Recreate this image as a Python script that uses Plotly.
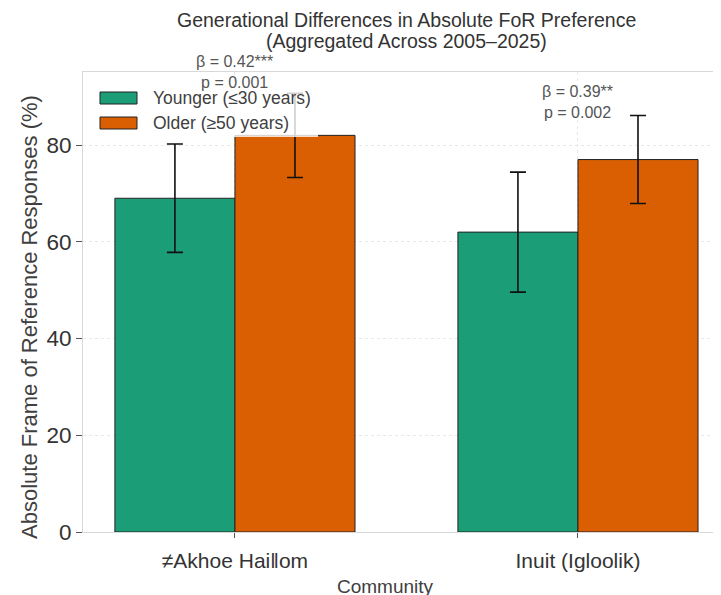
import plotly.graph_objects as go

communities = ["≠Akhoe Haiǁom", "Inuit (Igloolik)"]
younger = [69.0, 62.0]
younger_err = [11.2, 12.4]
older = [82.0, 77.0]
older_err = [8.7, 9.1]
stats_beta = ["β = 0.42***", "β = 0.39**"]
stats_p = ["p = 0.001", "p = 0.002"]
stats_y = [95.0, 88.8]
series_names = ["Younger (≤30 years)", "Older (≥50 years)"]
series_colors = ["#1b9e77", "#d95f02"]

FONT = "Liberation Sans, Arial, sans-serif"
TXT = "#404040"

# the page body has an 8px margin; design in window pixels and shift
O = 8
W, H = 721 - O, 595 - O
L, R, T, B = 83 - O, 721 - O, 72 - O, 532 - O


def px(x):
    return (x - O - L) / (R - L)


def py(y):
    return (B - (y - O)) / (B - T)


fig = go.Figure()
for name, vals, errs, col in zip(series_names, [younger, older], [younger_err, older_err], series_colors):
    fig.add_trace(go.Bar(
        x=communities, y=vals, name=name, showlegend=False,
        marker=dict(color=col, line=dict(color="#222222", width=1)),
        error_y=dict(type="data", array=errs, color="#111111", thickness=1.6, width=8),
    ))

for c, b, p, y in zip(communities, stats_beta, stats_p, stats_y):
    fig.add_annotation(x=c, y=y, xref="x", yref="y", text=f"{b}<br>{p}",
                       showarrow=False, font=dict(family=FONT, size=16, color="#555555"),
                       align="center", yanchor="middle")

# title lines
fig.add_annotation(x=px(406), y=py(20), xref="paper", yref="paper",
                   text="Generational Differences in Absolute FoR Preference",
                   showarrow=False, font=dict(family=FONT, size=19.5, color="#333333"),
                   xanchor="center", yanchor="middle")
fig.add_annotation(x=px(406), y=py(41), xref="paper", yref="paper",
                   text="(Aggregated Across 2005–2025)",
                   showarrow=False, font=dict(family=FONT, size=19.5, color="#333333"),
                   xanchor="center", yanchor="middle")
# axis titles
fig.add_annotation(x=px(29), y=py(317), xref="paper", yref="paper",
                   text="Absolute Frame of Reference Responses (%)", textangle=-90,
                   showarrow=False, font=dict(family=FONT, size=22, color=TXT),
                   xanchor="center", yanchor="middle")
fig.add_annotation(x=px(385), y=py(586), xref="paper", yref="paper",
                   text="Community",
                   showarrow=False, font=dict(family=FONT, size=19, color=TXT),
                   xanchor="center", yanchor="middle")

# legend (manual, to match patch shapes)
shapes = [dict(type="rect", xref="paper", yref="paper", x0=px(91), x1=px(318), y0=py(84), y1=py(137),
               fillcolor="rgba(255,255,255,0.8)", line=dict(width=0), layer="above")]
for i, (name, col) in enumerate(zip(series_names, series_colors)):
    yc = 98 + 25 * i
    shapes.append(dict(type="rect", xref="paper", yref="paper", x0=px(100), x1=px(137),
                       y0=py(yc - 6), y1=py(yc + 6), fillcolor=col,
                       line=dict(color="#222222", width=1), layer="above"))
    fig.add_annotation(x=px(151), y=py(yc), xref="paper", yref="paper", text=name,
                       showarrow=False, font=dict(family=FONT, size=17.5, color=TXT),
                       xanchor="left", yanchor="middle")

fig.update_layout(
    width=W, height=H,
    margin=dict(l=L, r=W - R, t=T, b=H - B, autoexpand=False),
    paper_bgcolor="white", plot_bgcolor="white",
    barmode="group", bargap=0.3, bargroupgap=0,
    font=dict(family=FONT, color=TXT),
    shapes=shapes,
    showlegend=False,
)
fig.update_xaxes(
    type="category", range=[-0.443, 1.417], automargin=False,
    showline=True, linecolor="#d8d8d8", linewidth=1, mirror=True,
    showgrid=True, gridcolor="#e8e8e8", griddash="dot",
    ticks="outside", ticklen=5, tickcolor="#555555", ticklabelstandoff=5,
    tickfont=dict(family=FONT, size=21, color="#333333"),
)
fig.update_yaxes(
    range=[0, 95.1], tickvals=[0, 20, 40, 60, 80], automargin=False,
    showline=True, linecolor="#d8d8d8", linewidth=1, mirror=True,
    showgrid=True, gridcolor="#e8e8e8", griddash="dot", zeroline=False,
    ticks="outside", ticklen=6, tickcolor="#555555",
    tickfont=dict(family=FONT, size=22.5, color="#333333"),
)

fig.write_html("out.html")
